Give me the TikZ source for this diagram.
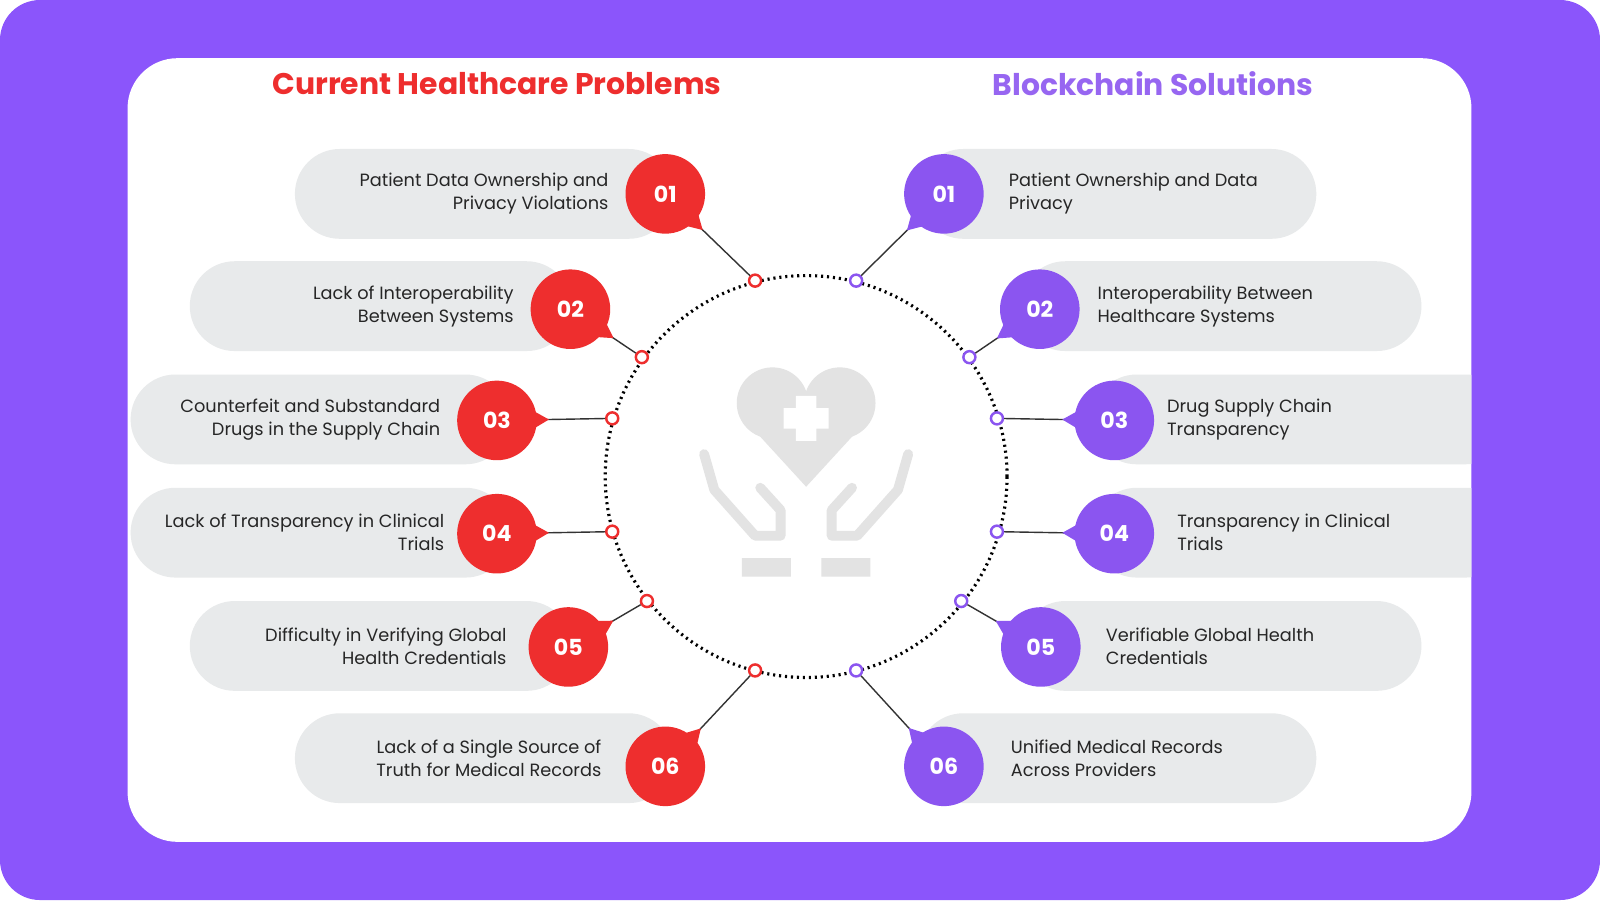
\documentclass[tikz,border=0pt]{standalone}
\usepackage{fontspec}
\setmainfont{Poppins}
\usetikzlibrary{calc}
\definecolor{bgp}{HTML}{8B55FB}
\definecolor{rd}{HTML}{EE2E2E}
\definecolor{pp}{HTML}{8B55F0}
\definecolor{pill}{HTML}{E8EAEB}
\definecolor{icon}{HTML}{E3E3E3}
\tikzset{
 pillbox/.style={fill=pill, rounded corners=0.449cm},
 badge/.style={circle, minimum size=0.796cm, inner sep=0pt, text=white, font=\fontsize{6.3}{7}\selectfont\bfseries},
 marker/.style={circle, draw=#1, fill=white, line width=0.7pt, minimum size=0.12cm, inner sep=0pt},
 link/.style={draw=black!80, line width=0.4pt},
 ltext/.style={align=right, anchor=east, inner sep=0pt, font=\fontsize{5.05}{6.6}\selectfont, text=black!85},
 rtext/.style={align=left, anchor=west, inner sep=0pt, font=\fontsize{5.05}{6.6}\selectfont, text=black!85},
}
\begin{document}
\begin{tikzpicture}[x=0.010204cm,y=-0.010204cm]
\useasboundingbox (0,0) rectangle (1568,882);
\fill[bgp, rounded corners=0.4cm] (0,0) rectangle (1568,882);
\fill[white, rounded corners=0.5cm] (125,57) rectangle (1442,825);
\begin{scope}
\clip[rounded corners=0.5cm] (125,57) rectangle (1442,825);
% titles
\node[text=rd, font=\fontsize{8.5}{10}\selectfont\bfseries] (t1) at (487,82) {Current Healthcare Problems};
\node[text=pp!90, font=\fontsize{8.5}{10}\selectfont\bfseries] (t2) at (1130,82) {Blockchain Solutions};
% ring
\draw[black, line width=0.9pt, dash pattern=on 0.6pt off 1.1pt] (790,467) circle[radius=2.01cm];
% icon
\fill[icon] (757,395) circle[radius=35] (823,395) circle[radius=35];
\fill[icon] (724,405) -- (790,477) -- (856,405) -- (790,395) -- cycle;
\fill[white] (780,388) rectangle (800,432) (768,400) rectangle (812,420);
\draw[icon, line width=2.8pt, line join=round, line cap=round] (690,445) -- (700,480) -- (740,525) -- (765,525) -- (765,500) -- (745,478);
\draw[icon, line width=2.8pt, line join=round, line cap=round] (890,445) -- (880,480) -- (840,525) -- (815,525) -- (815,500) -- (835,478);
\fill[icon] (727,547) rectangle (775,565) (805,547) rectangle (853,565);
% left rows
\foreach \n/\bx/\by/\pl/\pr/\py/\tx/\mx/\my/\txt in {
 01/652/190/289/660/190/597/740/275/{Patient Data Ownership and\\Privacy Violations},
 02/559/303/186/560/300/504/629/350/{Lack of Interoperability\\Between Systems},
 03/487/412/128/500/411/432/600/410/{Counterfeit and Substandard\\Drugs in the Supply Chain},
 04/487/523/128/500/522/436/600/521/{Lack of Transparency in Clinical\\Trials},
 05/557/634/186/560/633/497/634/589/{Difficulty in Verifying Global\\Health Credentials},
 06/652/751/289/660/743/590/740/657/{Lack of a Single Source of\\Truth for Medical Records}}{
 \fill[pillbox] (\pl,\py-44) rectangle (\pr,\py+44);
 \node[ltext] (lt\n) at (\tx,\py) {\txt};
 \coordinate (lb\n) at (\bx,\by);
 \node[marker=rd] (lm\n) at (\mx,\my) {};
 \draw[link] (lm\n) -- (lb\n);
 \fill[rd] ($(lb\n)!0.3cm!90:(lm\n)$) -- ($(lb\n)!0.52cm!(lm\n)$) -- ($(lb\n)!0.3cm!-90:(lm\n)$) -- cycle;
 \node[badge, fill=rd] at (lb\n) {\n};
}
% right rows
\foreach \n/\bx/\by/\pl/\pr/\py/\tx/\mx/\my/\txt in {
 01/925/190/900/1290/190/988/839/275/{Patient Ownership and Data\\Privacy},
 02/1019/303/1000/1393/300/1075/950/350/{Interoperability Between\\Healthcare Systems},
 03/1092/412/1070/1480/411/1143/977/410/{Drug Supply Chain\\Transparency},
 04/1092/523/1070/1480/522/1153/977/521/{Transparency in Clinical\\Trials},
 05/1020/634/1000/1393/633/1083/942/589/{Verifiable Global Health\\Credentials},
 06/925/751/900/1290/743/990/839/657/{Unified Medical Records\\Across Providers}}{
 \fill[pillbox] (\pl,\py-44) rectangle (\pr,\py+44);
 \node[rtext] (rt\n) at (\tx,\py) {\txt};
 \coordinate (rb\n) at (\bx,\by);
 \node[marker=pp] (rm\n) at (\mx,\my) {};
 \draw[link] (rm\n) -- (rb\n);
 \fill[pp] ($(rb\n)!0.3cm!90:(rm\n)$) -- ($(rb\n)!0.52cm!(rm\n)$) -- ($(rb\n)!0.3cm!-90:(rm\n)$) -- cycle;
 \node[badge, fill=pp] at (rb\n) {\n};
}
\end{scope}
\end{tikzpicture}
\end{document}
